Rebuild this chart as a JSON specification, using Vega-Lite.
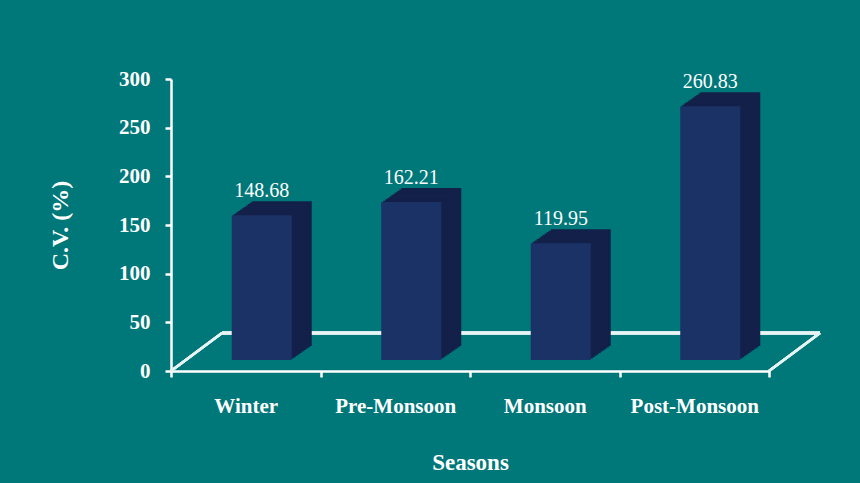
{
  "$schema": "https://vega.github.io/schema/vega-lite/v6.json",
  "width": 598,
  "height": 292,
  "autosize": {"type": "none"},
  "padding": {"left": 171, "top": 79, "right": 91, "bottom": 112},
  "background": "#007779",
  "config": {
    "view": {"stroke": null},
    "font": "Liberation Serif"
  },
  "data": {
    "values": [
      {"season": "Winter", "cv": 148.68},
      {"season": "Pre-Monsoon", "cv": 162.21},
      {"season": "Monsoon", "cv": 119.95},
      {"season": "Post-Monsoon", "cv": 260.83}
    ]
  },
  "encoding": {
    "x": {
      "field": "season",
      "type": "nominal",
      "sort": null,
      "scale": {"domain": ["Winter", "Pre-Monsoon", "Monsoon", "Post-Monsoon"], "paddingInner": 0, "paddingOuter": 0},
      "axis": {
        "title": "Seasons",
        "labelAngle": 0,
        "tickBand": "extent",
        "domainColor": "white",
        "domainWidth": 2.5,
        "tickColor": "white",
        "tickWidth": 2.5,
        "tickSize": 6,
        "labelColor": "white",
        "labelFont": "Liberation Serif",
        "labelFontWeight": "bold",
        "labelFontSize": 21,
        "labelPadding": 18,
        "titleColor": "white",
        "titleFont": "Liberation Serif",
        "titleFontWeight": "bold",
        "titleFontSize": 23,
        "titlePadding": 35
      }
    },
    "y": {
      "field": "cv",
      "type": "quantitative",
      "scale": {"domain": [0, 300], "nice": false},
      "axis": {
        "title": "C.V. (%)",
        "values": [0, 50, 100, 150, 200, 250, 300],
        "grid": false,
        "domainColor": "white",
        "domainWidth": 2.5,
        "tickColor": "white",
        "tickWidth": 2.5,
        "tickSize": 6,
        "labelColor": "white",
        "labelFont": "Liberation Serif",
        "labelFontWeight": "bold",
        "labelFontSize": 21,
        "labelPadding": 15,
        "titleColor": "white",
        "titleFont": "Liberation Serif",
        "titleFontWeight": "bold",
        "titleFontSize": 24,
        "titlePadding": 46
      }
    }
  },
  "layer": [
    {
      "mark": {"type": "rule", "color": "#e6f4f4", "strokeWidth": 3, "xOffset": -23.75, "x2Offset": 125.75, "yOffset": -38, "y2Offset": -38},
      "encoding": {
        "x": {"datum": "Winter"},
        "x2": {"datum": "Post-Monsoon"},
        "y": {"datum": 0},
        "y2": {"datum": 0}
      }
    },
    {
      "mark": {"type": "rule", "color": "#e6f4f4", "strokeWidth": 2.5, "xOffset": -74.75, "x2Offset": -23.75, "y2Offset": -38},
      "encoding": {
        "x": {"datum": "Winter"},
        "x2": {"datum": "Winter"},
        "y": {"datum": 0},
        "y2": {"datum": 0}
      }
    },
    {
      "mark": {"type": "rule", "color": "#e6f4f4", "strokeWidth": 2.5, "xOffset": 74.75, "x2Offset": 125.75, "y2Offset": -38},
      "encoding": {
        "x": {"datum": "Post-Monsoon"},
        "x2": {"datum": "Post-Monsoon"},
        "y": {"datum": 0},
        "y2": {"datum": 0}
      }
    },
    {"mark": {"type": "bar", "width": 60, "color": "#13214a", "xOffset": 36, "yOffset": -25}},
    {"mark": {"type": "bar", "width": 60, "color": "#13214a", "xOffset": 34, "yOffset": -23.6}},
    {"mark": {"type": "bar", "width": 60, "color": "#13214a", "xOffset": 32, "yOffset": -22.2}},
    {"mark": {"type": "bar", "width": 60, "color": "#13214a", "xOffset": 30, "yOffset": -20.8}},
    {"mark": {"type": "bar", "width": 60, "color": "#13214a", "xOffset": 28, "yOffset": -19.4}},
    {"mark": {"type": "bar", "width": 60, "color": "#13214a", "xOffset": 26, "yOffset": -18}},
    {"mark": {"type": "bar", "width": 60, "color": "#13214a", "xOffset": 24, "yOffset": -16.6}},
    {"mark": {"type": "bar", "width": 60, "color": "#13214a", "xOffset": 22, "yOffset": -15.2}},
    {"mark": {"type": "bar", "width": 60, "color": "#13214a", "xOffset": 20, "yOffset": -13.8}},
    {"mark": {"type": "bar", "width": 60, "color": "#13214a", "xOffset": 18, "yOffset": -12.4}},
    {"mark": {"type": "bar", "width": 60, "color": "#1b3266", "xOffset": 16, "yOffset": -11}},
    {
      "mark": {"type": "text", "color": "white", "font": "Liberation Serif", "fontSize": 20, "baseline": "alphabetic", "xOffset": 16, "yOffset": -29},
      "encoding": {"text": {"field": "cv", "type": "quantitative", "format": ".2f"}}
    }
  ]
}
